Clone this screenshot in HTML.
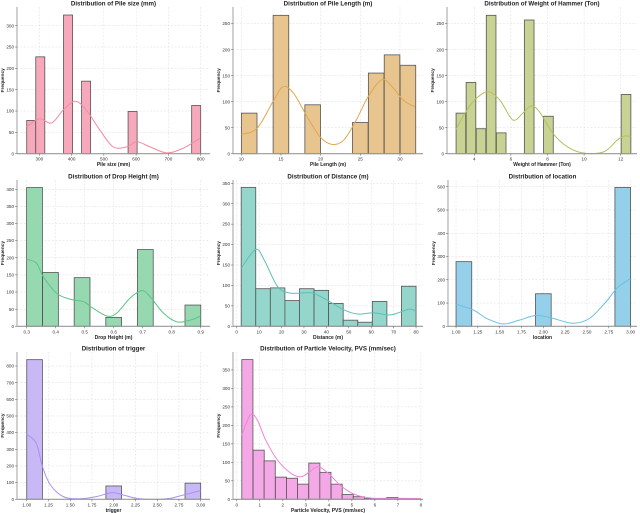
<!DOCTYPE html>
<html><head><meta charset="utf-8"><style>
html,body{margin:0;padding:0;background:#fff;width:640px;height:513px;overflow:hidden}
svg{display:block;font-family:"Liberation Sans",sans-serif}
</style></head><body>
<svg id="fig" width="640" height="513" viewBox="0 0 640 513" xmlns="http://www.w3.org/2000/svg"></svg>
<script>
// ---- data ----
const pileCenters=[275,303,389,445,589,786];
const pileCounts=[78,227,325,170,99,113];
const pileKdeX=[261,300,338,374,411,446,488,529,571,602,643,695,746,798];
const pileKdeY=[63,82,72,102,123,102,55,16,16,28,16,2,13,36];

const lenCenters=[11,15,19,25,27,29,31];
const lenCounts=[78,266,94,60,155,190,170];
const lenKdeX=[10,12,14.1,15.3,16.6,18.3,19.9,21.4,22.9,24.5,26,27.7,29,30.4,31.9];
const lenKdeY=[37,49,103,129,116,71,33,18,26,65,110,142,129,103,90];

const hamCenters=[3.27,3.82,4.37,4.92,5.47,7.0,8.05,12.29];
const hamCounts=[78,137,48,266,40,257,72,114];
const hamKdeX=[3.0,3.6,4.1,4.75,5.4,6.1,6.65,7.1,7.55,8.3,9.1,10.0,11.1,11.8,12.2,12.55];
const hamKdeY=[47,84,106,119,103,65,78,92,81,39,13,1,4,26,34,33];

const dropCenters=[0.327,0.382,0.491,0.6,0.709,0.873];
const dropCounts=[405,157,142,26,224,62];
const dropKdeX=[0.3,0.334,0.357,0.404,0.45,0.496,0.53,0.577,0.61,0.656,0.697,0.726,0.772,0.818,0.864,0.9];
const dropKdeY=[196,184,145,96,79,72,52,30,38,82,104,86,38,13,18,30];

const distCenters=[5.25,11.75,18.25,24.75,31.25,37.75,44.25,50.75,57.25,63.75,70.25,76.75];
const distCounts=[340,92,94,63,92,88,56,15,10,61,0,98];
const distKdeX=[2,8.5,12.3,18.3,24.2,33.1,39.1,47.9,53.9,61.3,68.8,76.9,80];
const distKdeY=[142,188,162,97,81,82,68,40,30,33,28,42,36];

const locCenters=[1.09,2.0,2.91];
const locCounts=[278,140,597];
const locKdeX=[1.0,1.2,1.35,1.54,1.73,1.92,2.11,2.34,2.53,2.72,2.84,2.97,3.0];
const locKdeY=[95,70,34,10,27,47,34,13,34,106,163,199,199];

const trigCenters=[1.09,2.0,2.91];
const trigCounts=[838,80,97];
const trigKdeX=[1.0,1.11,1.18,1.27,1.42,1.61,1.8,1.98,2.11,2.3,2.61,2.8,3.0];
const trigKdeY=[390,336,197,88,16,3,16,40,26,3,3,26,52];

const pvsCenters=[0.46,0.95,1.43,1.92,2.4,2.88,3.37,3.85,4.34,4.82,5.3,5.79,6.27,6.76,7.24,7.73];
const pvsCounts=[378,133,104,60,57,41,98,73,41,13,7,2,2,5,2,2];
const pvsKdeX=[0.22,0.59,0.89,1.25,1.77,2.36,2.8,3.17,3.54,3.98,4.57,5.17,5.9,6.79,7.97];
const pvsKdeY=[174,228,215,161,106,70,61,75,88,70,34,12,3,3,2];

// ---- layout ----
const panels=[
 {name:'pile-size',title:'Distribution of Pile size (mm)',xl:'Pile size (mm)',l:17,r:210,t:7,b:153.7,xa:230.9,xb:828.8,ym:343.8,bw:28,c:pileCenters,n:pileCounts,kx:pileKdeX,ky:pileKdeY,xt:[300,400,500,600,700,800],xd:0,yt:[0,50,100,150,200,250,300],fill:'#f7a8ba',line:'#f28ca3'},
 {name:'pile-length',title:'Distribution of Pile Length (m)',xl:'Pile Length (m)',l:233,r:423,t:7,b:153.7,xa:8.96,xb:32.9,ym:282,bw:1.97,c:lenCenters,n:lenCounts,kx:lenKdeX,ky:lenKdeY,xt:[10,15,20,25,30],xd:0,yt:[0,50,100,150,200,250],fill:'#e8c48e',line:'#e0a850'},
 {name:'hammer-weight',title:'Distribution of Weight of Hammer (Ton)',xl:'Weight of Hammer (Ton)',l:447,r:637,t:7,b:153.7,xa:2.51,xb:12.89,ym:282,bw:0.53,c:hamCenters,n:hamCounts,kx:hamKdeX,ky:hamKdeY,xt:[4,6,8,10,12],xd:0,yt:[0,50,100,150,200,250],fill:'#c8d292',line:'#b4c060'},
 {name:'drop-height',title:'Distribution of Drop Height (m)',xl:'Drop Height (m)',l:17,r:210,t:180,b:326.3,xa:0.2666,xb:0.932,ym:427,bw:0.0545,c:dropCenters,n:dropCounts,kx:dropKdeX,ky:dropKdeY,xt:[0.3,0.4,0.5,0.6,0.7,0.8,0.9],xd:1,yt:[0,50,100,150,200,250,300,350,400],fill:'#96d8b0',line:'#5cc488'},
 {name:'distance',title:'Distribution of Distance (m)',xl:'Distance (m)',l:233,r:423,t:180,b:326.3,xa:-1.65,xb:83.1,ym:358,bw:6.5,c:distCenters,n:distCounts,kx:distKdeX,ky:distKdeY,xt:[0,10,20,30,40,50,60,70,80],xd:0,yt:[0,50,100,150,200,250,300,350],fill:'#94d6cc',line:'#5cc0b6'},
 {name:'location',title:'Distribution of location',xl:'location',l:448,r:637,t:180,b:326.3,xa:0.908,xb:3.073,ym:629,bw:0.18,c:locCenters,n:locCounts,kx:locKdeX,ky:locKdeY,xt:[1,1.25,1.5,1.75,2,2.25,2.5,2.75,3],xd:2,yt:[0,100,200,300,400,500,600],fill:'#94d0ea',line:'#6cc0e2'},
 {name:'trigger',title:'Distribution of trigger',xl:'trigger',l:17,r:210,t:352,b:499.3,xa:0.888,xb:3.107,ym:884,bw:0.18,c:trigCenters,n:trigCounts,kx:trigKdeX,ky:trigKdeY,xt:[1,1.25,1.5,1.75,2,2.25,2.5,2.75,3],xd:2,yt:[0,100,200,300,400,500,600,700,800],fill:'#c8b8f6',line:'#a890f2'},
 {name:'particle-velocity',title:'Distribution of Particle Velocity, PVS (mm/sec)',xl:'Particle Velocity, PVS (mm/sec)',l:233,r:423,t:352,b:499.3,xa:-0.164,xb:8.09,ym:398.6,bw:0.484,c:pvsCenters,n:pvsCounts,kx:pvsKdeX,ky:pvsKdeY,xt:[0,1,2,3,4,5,6,7,8],xd:0,yt:[0,50,100,150,200,250,300,350],fill:'#f5a8e6',line:'#ee84dc'}
];
const NS='http://www.w3.org/2000/svg';
const svg=document.getElementById('fig');
function mk(tag,attrs,parent){const e=document.createElementNS(NS,tag);for(const k in attrs)e.setAttribute(k,attrs[k]);parent.appendChild(e);return e;}
function smooth(pts){let d='M'+pts[0][0]+','+pts[0][1];for(let i=0;i<pts.length-1;i++){const p0=pts[i-1]||pts[i],p1=pts[i],p2=pts[i+1],p3=pts[i+2]||p2;
 d+=' C'+(p1[0]+(p2[0]-p0[0])/6)+','+(p1[1]+(p2[1]-p0[1])/6)+' '+(p2[0]-(p3[0]-p1[0])/6)+','+(p2[1]-(p3[1]-p1[1])/6)+' '+p2[0]+','+p2[1];}return d;}
panels.forEach(p=>{
 const g=mk('g',{},svg);
 
 
 const X=v=>p.l+(v-p.xa)/(p.xb-p.xa)*(p.r-p.l);
 const Y=v=>p.b-v/p.ym*(p.b-p.t);
 p.xt.forEach(v=>{mk('line',{x1:X(v),x2:X(v),y1:p.t,y2:p.b,stroke:'#ddd','stroke-width':0.5,'stroke-dasharray':'2,1.5'},g);});
 p.yt.forEach(v=>{mk('line',{x1:p.l,x2:p.r,y1:Y(v),y2:Y(v),stroke:'#ddd','stroke-width':0.5,'stroke-dasharray':'2,1.5'},g);});
 p.c.forEach((c,i)=>{const r=mk('rect',{x:X(c-p.bw/2),y:Y(p.n[i]),width:X(c+p.bw/2)-X(c-p.bw/2),height:p.b-Y(p.n[i]),fill:p.fill,stroke:'#555','stroke-width':0.8},g);
  
  });
 const pts=p.kx.map((v,i)=>[X(v),Y(p.ky[i])]);
 const kd=mk('path',{d:smooth(pts),fill:'none',stroke:p.line,'stroke-width':1},g);
 
 
 mk('line',{x1:p.l,x2:p.l,y1:p.t,y2:p.b,stroke:'#888','stroke-width':0.8},g);
 mk('line',{x1:p.l,x2:p.r,y1:p.b,y2:p.b,stroke:'#999','stroke-width':1.2},g);
 p.xt.forEach(v=>{mk('line',{x1:X(v),x2:X(v),y1:p.b,y2:p.b+2,stroke:'#555','stroke-width':0.5},g);
  const t=mk('text',{x:X(v),y:p.b+7,'font-size':4.6,'text-anchor':'middle',fill:'#333'},g);t.textContent=v.toFixed(p.xd);
  
  });
 p.yt.forEach(v=>{mk('line',{x1:p.l-2,x2:p.l,y1:Y(v),y2:Y(v),stroke:'#555','stroke-width':0.5},g);
  const t=mk('text',{x:p.l-3,y:Y(v)+1.6,'font-size':4.6,'text-anchor':'end',fill:'#333'},g);t.textContent=v;
  
  });
 const ti=mk('text',{x:(p.l+p.r)/2,y:p.t-1.5,'font-size':6.2,'font-weight':'bold','text-anchor':'middle',fill:'#222'},g);ti.textContent=p.title;
 
 
 const xl=mk('text',{x:(p.l+p.r)/2,y:p.b+12.5,'font-size':5,'font-weight':'bold','text-anchor':'middle',fill:'#222'},g);xl.textContent=p.xl;
 
 
 const yx=p.l-13,yy=(p.t+p.b)/2;
 const yl=mk('text',{x:yx,y:yy,'font-size':4.8,'font-weight':'bold','text-anchor':'middle',fill:'#222',transform:'rotate(-90 '+yx+' '+yy+')'},g);yl.textContent='Frequency';
 
 
});
</script>
</body></html>
